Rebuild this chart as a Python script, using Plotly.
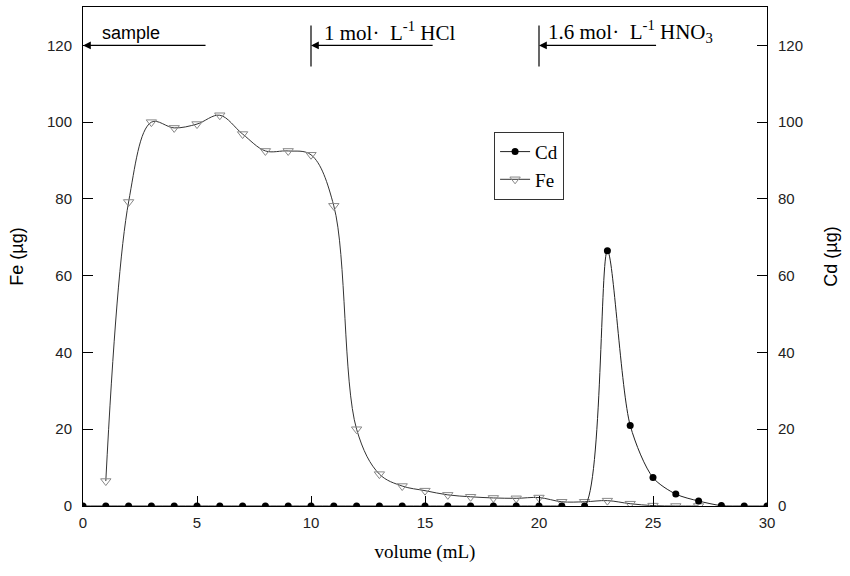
import plotly.graph_objects as go

volume_cd = list(range(0, 31))
cd_values = [0]*23 + [66.5, 21.0, 7.4, 3.1, 1.3, 0.1, 0, 0]

volume_fe = list(range(1, 28))
fe_values = [6.5, 79.2, 100.0, 98.5, 99.5, 101.8, 96.9, 92.5, 92.5, 91.5,
             78.2, 20.0, 8.3, 5.2, 4.0, 2.9, 2.4, 2.1, 2.0, 2.2,
             1.1, 1.1, 1.4, 0.6, 0.1, 0.0, 0.0]

x_ticks = [0, 5, 10, 15, 20, 25, 30]
y_ticks = [0, 20, 40, 60, 80, 100, 120]

serif = "Liberation Serif, Times New Roman, serif"
sans = "Liberation Sans, Arial, sans-serif"

fig = go.Figure()
fig.add_trace(go.Scatter(
    x=volume_cd, y=cd_values, name="Cd", yaxis="y2",
    mode="lines+markers", line=dict(color="#222", width=1, shape="spline", smoothing=0.8),
    marker=dict(symbol="circle", size=7, color="black"),
))
fig.add_trace(go.Scatter(
    x=volume_fe, y=fe_values, name="Fe",
    mode="lines+markers", line=dict(color="#333", width=1, shape="spline", smoothing=1.0),
    marker=dict(symbol="triangle-down-open", size=9, color="#888", line=dict(width=1)),
))

axis_common = dict(showline=True, linecolor="black", linewidth=1, ticks="inside",
                   ticklen=10, tickwidth=1, tickcolor="black", showgrid=False,
                   zeroline=False, tickfont=dict(family=sans, size=15, color="#222"))

fig.update_layout(
    width=850, height=576, plot_bgcolor="white", paper_bgcolor="white",
    margin=dict(l=83, r=83, t=7, b=70),
    xaxis=dict(range=[0, 30], tickvals=x_ticks, mirror=True, ticklabelstandoff=3,
               title=dict(text="volume (mL)", font=dict(family=serif, size=19, color="black"), standoff=14),
               **axis_common),
    yaxis=dict(range=[0, 130], tickvals=y_ticks, ticklabelstandoff=7,
               title=dict(text="Fe (µg)", font=dict(family=sans, size=18, color="black"), standoff=18),
               **axis_common),
    yaxis2=dict(range=[0, 130], tickvals=y_ticks, overlaying="y", side="right", ticklabelstandoff=7,
                title=dict(text="Cd (µg)", font=dict(family=sans, size=18, color="black"), standoff=22),
                **axis_common),
    legend=dict(x=0.601, y=0.75, xanchor="left", yanchor="top",
                bordercolor="#333", borderwidth=1, bgcolor="white",
                font=dict(family=serif, size=19, color="black"), tracegroupgap=0,
                itemwidth=30),
    showlegend=True,
)

# arrows
for x0, x1 in [(5.44, 0), (15.4, 10), (25.2, 20)]:
    fig.add_annotation(x=x1, y=120, ax=x0, ay=120, xref="x", yref="y", axref="x", ayref="y",
                       showarrow=True, arrowhead=2, arrowsize=1.3, arrowwidth=1.2,
                       arrowcolor="black", text="")
# vertical bars
for xb in [10, 20]:
    fig.add_shape(type="line", x0=xb, x1=xb, y0=114.5, y1=125.2, xref="x", yref="y",
                  line=dict(color="black", width=1.2))

fig.add_annotation(x=0.75, y=123.3, xref="x", yref="y", xanchor="left", showarrow=False,
                   text="sample", font=dict(family=sans, size=18, color="black"))
fig.add_annotation(x=10.5, y=123.6, xref="x", yref="y", xanchor="left", showarrow=False,
                   text="1 mol·  L<sup>-1</sup> HCl", font=dict(family=serif, size=21, color="black"))
fig.add_annotation(x=20.3, y=123.6, xref="x", yref="y", xanchor="left", showarrow=False,
                   text="1.6 mol·  L<sup>-1</sup> HNO<sub>3</sub>", font=dict(family=serif, size=21, color="black"))

fig.write_html("out.html", post_script="document.body.style.margin='0';",
               config={"displayModeBar": False})
